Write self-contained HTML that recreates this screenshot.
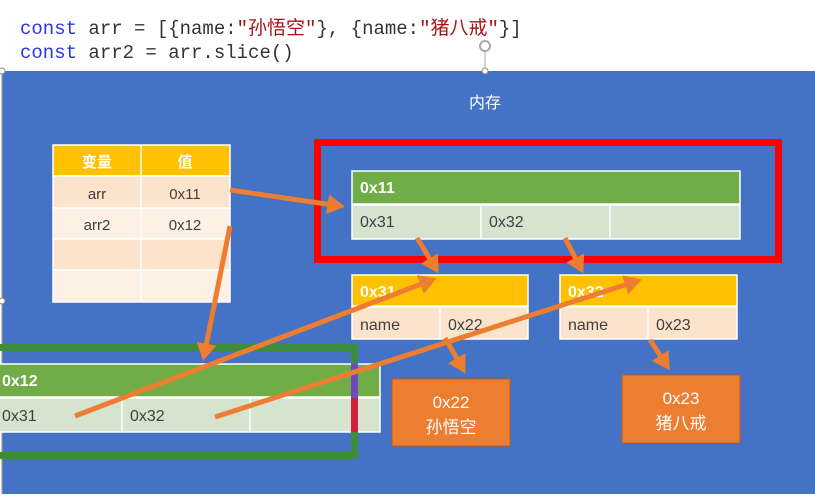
<!DOCTYPE html>
<html><head><meta charset="utf-8"><style>
body{margin:0;width:815px;height:494px;overflow:hidden;background:#fff}
svg text{font-family:"Liberation Sans","Noto Sans CJK SC",sans-serif}
</style></head><body>
<svg width="815" height="494" xmlns="http://www.w3.org/2000/svg">
<defs><marker id="a" markerWidth="4" markerHeight="4" refX="2.5" refY="2" orient="auto" markerUnits="strokeWidth"><path d="M0,0 L3.5,2 L0,4 z" fill="#ed7d31"/></marker></defs>
<text x="20" y="34" font-size="19" fill="#333" style="font-family:'Liberation Mono','Noto Sans CJK SC',monospace"><tspan fill="#2a35e0">const</tspan> arr = [{name:<tspan fill="#a31515">"孙悟空"</tspan>}, {name:<tspan fill="#a31515">"猪八戒"</tspan>}]</text>
<text x="20" y="58" font-size="19" fill="#333" style="font-family:'Liberation Mono',monospace"><tspan fill="#2a35e0">const</tspan> arr2 = arr.slice()</text>
<line x1="485" y1="50" x2="485" y2="71" stroke="#aaa"/><circle cx="485" cy="46" r="5" fill="none" stroke="#aaa" stroke-width="2"/>
<rect x="2" y="71" width="813" height="423" fill="#4472c4"/>
<line x1="2" y1="71" x2="2" y2="494" stroke="#999"/>
<circle cx="2" cy="71" r="3" fill="#fff" stroke="#888"/><circle cx="485" cy="71" r="3" fill="#fff" stroke="#888"/><circle cx="2" cy="301" r="3" fill="#fff" stroke="#888"/>
<text x="485" y="108" font-size="16" fill="#fff" text-anchor="middle">内存</text>
<g stroke="#fff" stroke-width="1.5">
<rect x="53" y="145" width="177" height="31" fill="#ffc000"/>
<rect x="53" y="176" width="177" height="32" fill="#fce4cc"/>
<rect x="53" y="208" width="177" height="31" fill="#fdf1e6"/>
<rect x="53" y="239" width="177" height="31" fill="#fce4cc"/>
<rect x="53" y="270" width="177" height="32" fill="#fdf1e6"/>
<line x1="141" y1="145" x2="141" y2="302"/>
</g>
<g font-size="15" text-anchor="middle">
<text x="97" y="167" fill="#fff" font-weight="bold">变量</text><text x="185" y="167" fill="#fff" font-weight="bold">值</text>
<text x="97" y="199" fill="#404040">arr</text><text x="185" y="199" fill="#404040">0x11</text>
<text x="97" y="230" fill="#404040">arr2</text><text x="185" y="230" fill="#404040">0x12</text>
</g>
<rect x="317.5" y="142.5" width="461" height="117" fill="none" stroke="#ff0000" stroke-width="7"/>
<g stroke="#fff" stroke-width="1.5">
<rect x="352" y="171" width="388" height="33" fill="#70ad47"/>
<rect x="352" y="205" width="388" height="34" fill="#d5e3cf"/>
<line x1="481" y1="205" x2="481" y2="239"/><line x1="610" y1="205" x2="610" y2="239"/>
<rect x="352" y="275" width="176" height="31" fill="#ffc000"/>
<rect x="352" y="307" width="176" height="32" fill="#fce4cc"/>
<line x1="440" y1="307" x2="440" y2="339"/>
<rect x="560" y="275" width="177" height="31" fill="#ffc000"/>
<rect x="560" y="307" width="177" height="32" fill="#fce4cc"/>
<line x1="648" y1="307" x2="648" y2="339"/>
</g>
<g font-size="16" fill="#404040">
<text x="360" y="193" fill="#fff" font-weight="bold">0x11</text>
<text x="360" y="227">0x31</text><text x="489" y="227">0x32</text>
<text x="360" y="297" fill="#fff" font-weight="bold">0x31</text>
<text x="568" y="297" fill="#fff" font-weight="bold">0x32</text>
<text x="360" y="330">name</text><text x="448" y="330">0x22</text>
<text x="568" y="330">name</text><text x="656" y="330">0x23</text>
</g>
<rect x="392" y="379" width="118" height="67" fill="#ed7d31" stroke="#c55a11"/>
<rect x="622" y="375" width="118" height="68" fill="#ed7d31" stroke="#c55a11"/>
<g font-size="17" fill="#fff" text-anchor="middle">
<text x="451" y="408">0x22</text><text x="451" y="433">孙悟空</text>
<text x="681" y="404">0x23</text><text x="681" y="429">猪八戒</text>
</g>
<g stroke="#fff" stroke-width="1.5">
<rect x="-2" y="364" width="382" height="33" fill="#70ad47"/>
<rect x="-2" y="398" width="382" height="34" fill="#d5e3cf"/>
<line x1="122" y1="398" x2="122" y2="432"/><line x1="250" y1="398" x2="250" y2="432"/>
</g>
<text x="2" y="386" font-size="16" fill="#fff" font-weight="bold">0x12</text>
<text x="2" y="421" font-size="16" fill="#404040">0x31</text><text x="130" y="421" font-size="16" fill="#404040">0x32</text>
<rect x="-4" y="347.5" width="358.5" height="108" fill="none" stroke="#3e8d3c" stroke-width="7"/>
<rect x="351" y="364" width="7" height="34" fill="#7048c0"/><rect x="351" y="398" width="7" height="34" fill="#d0203a"/>
<g stroke="#ed7d31" stroke-width="5" marker-end="url(#a)" fill="none">
<line x1="230" y1="190" x2="340" y2="206"/>
<line x1="230" y1="226" x2="204" y2="356"/>
<line x1="75" y1="416" x2="432" y2="280"/>
<line x1="215" y1="417" x2="637" y2="281"/>
<line x1="417" y1="238" x2="436" y2="269"/>
<line x1="565" y1="238" x2="581" y2="269"/>
<line x1="445" y1="338" x2="463" y2="369"/>
<line x1="650" y1="340" x2="667" y2="366"/>
</g>
</svg>
</body></html>
